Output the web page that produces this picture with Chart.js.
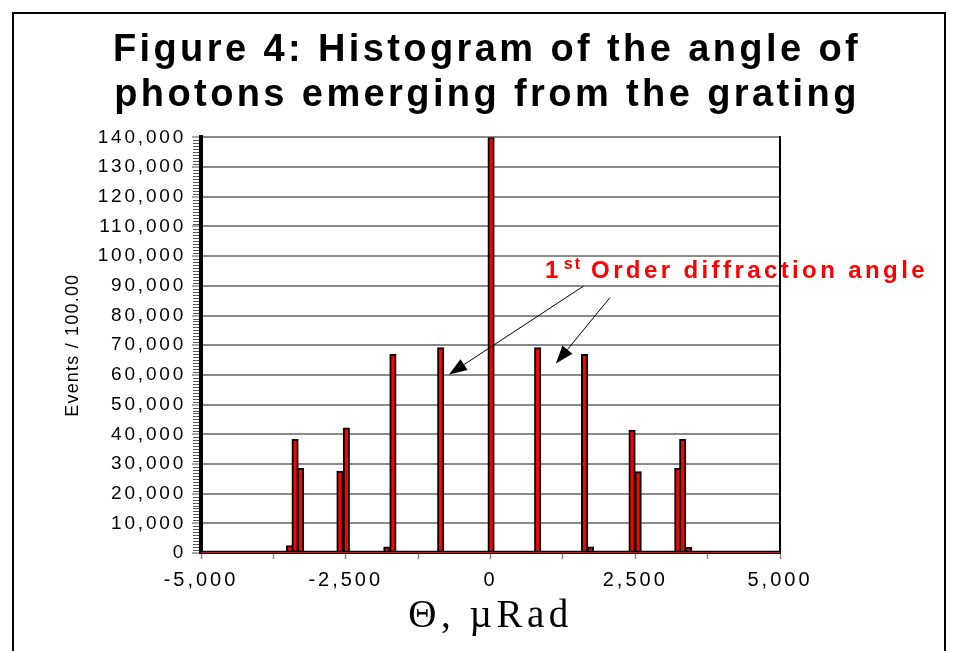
<!DOCTYPE html>
<html>
<head>
<meta charset="utf-8">
<script src="https://cdn.jsdelivr.net/npm/chart.js@4.4.1/dist/chart.umd.min.js"></script>
<style>
  body { margin: 0; background: #fff; }
  #wrap { position: relative; width: 953px; height: 651px; overflow: hidden; }
  #frame { position: absolute; left: 12px; top: 12px; width: 930px; height: 700px; border: 2px solid #000; pointer-events: none; }
  canvas { position: absolute; left: 0; top: 0; }
</style>
</head>
<body>
<div id="wrap">
  <canvas id="myChart" width="953" height="651"></canvas>
  <div id="frame"></div>
</div>
<script>
// histogram bins (bin centre in µrad, events / 100)
const angles = [-3470, -3375, -3280, -2600, -2490, -1790, -1685, -860, 10, 815, 1625, 1725, 2445, 2550, 3235, 3320, 3425];
const events = [2500, 38300, 28500, 27600, 42200, 2100, 66900, 69200, 140000, 69200, 66900, 2100, 41400, 27400, 28500, 38300, 1900];

const xTickValues = [-5000, -3750, -2500, -1250, 0, 1250, 2500, 3750, 5000];
const xTickLabels = ["-5,000", "", "-2,500", "", "0", "", "2,500", "", "5,000"];
const yTickValues = [0, 10000, 20000, 30000, 40000, 50000, 60000, 70000, 80000, 90000, 100000, 110000, 120000, 130000, 140000];
const yTickLabels = ["0", "10,000", "20,000", "30,000", "40,000", "50,000", "60,000", "70,000", "80,000", "90,000", "100,000", "110,000", "120,000", "130,000", "140,000"];
const yMinorStep = 1000;

const titleLines = ["Figure 4: Histogram of the angle of", "photons emerging from the grating"];
const xTitle = "\u0398, \u00b5Rad";
const yTitle = "Events / 100.00";

// annotation, in data units
const notePos = { x: 941, y: 92560 };
const arrows = [
	[1603, 89870, -717, 60150],
	[2064, 86060, 1131, 63850],
];

const canvas = document.getElementById("myChart");
const c2d = canvas.getContext("2d");

// the picture uses widely spaced lettering; pick the spacing from the font
const spacingFor = (font) => {
	if (font.includes("Serif")) return "4.5px";
	const m = font.match(/([\d.]+)px/);
	const size = m ? parseFloat(m[1]) : 12;
	if (size >= 30) return "3.4px";
	if (size >= 20) return "3px";
	if (size >= 19) return "2.8px";
	return "1.2px";
};
const fontProp = Object.getOwnPropertyDescriptor(CanvasRenderingContext2D.prototype, "font");
Object.defineProperty(c2d, "font", {
	get() {
		return fontProp.get.call(this);
	},
	set(v) {
		fontProp.set.call(this, v);
		this.letterSpacing = spacingFor(v);
	},
});

const drawArrow = (ctx, x1, y1, x2, y2) => {
	const ang = Math.atan2(y2 - y1, x2 - x1);
	const len = 18;
	const half = 6.5;
	const bx = x2 - len * Math.cos(ang);
	const by = y2 - len * Math.sin(ang);
	ctx.beginPath();
	ctx.moveTo(x1, y1);
	ctx.lineTo(bx, by);
	ctx.stroke();
	ctx.beginPath();
	ctx.moveTo(x2, y2);
	ctx.lineTo(bx + half * Math.sin(ang), by - half * Math.cos(ang));
	ctx.lineTo(bx - half * Math.sin(ang), by + half * Math.cos(ang));
	ctx.closePath();
	ctx.fill();
};

const extras = {
	id: "extras",
	afterDraw(chart) {
		const { ctx, scales } = chart;
		const x = scales.x;
		const y = scales.y;
		ctx.save();
		// minor ticks on the value axis
		ctx.strokeStyle = "#555";
		ctx.lineWidth = 1;
		for (let v = y.min; v <= y.max; v += yMinorStep) {
			if (yTickValues.includes(v)) continue;
			const py = Math.round(y.getPixelForValue(v)) + 0.5;
			ctx.beginPath();
			ctx.moveTo(chart.chartArea.left - 8, py);
			ctx.lineTo(chart.chartArea.left - 2, py);
			ctx.stroke();
		}
		// arrows
		ctx.strokeStyle = "#000";
		ctx.fillStyle = "#000";
		ctx.lineWidth = 1;
		arrows.forEach((a) => {
			drawArrow(ctx, x.getPixelForValue(a[0]), y.getPixelForValue(a[1]), x.getPixelForValue(a[2]), y.getPixelForValue(a[3]));
		});
		// label
		let px = x.getPixelForValue(notePos.x);
		const py = y.getPixelForValue(notePos.y);
		ctx.fillStyle = "#ff0000";
		ctx.textAlign = "left";
		ctx.textBaseline = "alphabetic";
		ctx.font = 'bold 24px "Liberation Sans"';
		ctx.letterSpacing = "3.5px";
		ctx.fillText("1", px, py);
		px += ctx.measureText("1").width + 2;
		ctx.font = 'bold 16px "Liberation Sans"';
		ctx.letterSpacing = "2px";
		ctx.fillText("st", px, py - 9);
		px += ctx.measureText("st").width + 9;
		ctx.font = 'bold 24px "Liberation Sans"';
		ctx.letterSpacing = "3.4px";
		ctx.fillText("Order diffraction angle", px, py);
		ctx.restore();
	},
};

Chart.defaults.font.family = '"Liberation Sans", Arial, sans-serif';
Chart.defaults.color = "#000";

new Chart(canvas, {
	type: "bar",
	data: {
		datasets: [
			{
				type: "line",
				data: [{ x: xTickValues[0], y: 0 }, { x: xTickValues[xTickValues.length - 1], y: 0 }],
				borderColor: "#ff0000",
				borderWidth: 2,
				pointRadius: 0,
				order: 0,
			},
			{
				type: "line",
				data: [{ x: xTickValues[0], y: 0 }, { x: xTickValues[xTickValues.length - 1], y: 0 }],
				borderColor: "#000",
				borderWidth: 4.5,
				pointRadius: 0,
				order: 1,
			},
			{
				data: angles.map((a, i) => ({ x: a, y: events[i] })),
				backgroundColor: "#ff0000",
				borderColor: "#000",
				borderWidth: 2,
				barThickness: 6.5,
				order: 2,
			},
		],
	},
	options: {
		responsive: false,
		animation: false,
		devicePixelRatio: 1,
		layout: { padding: { left: 21, top: 14, right: 0, bottom: 0 } },
		plugins: {
			legend: { display: false },
			tooltip: { enabled: false },
			title: {
				display: true,
				text: titleLines,
				color: "#000",
				font: { size: 38, weight: "bold", lineHeight: 1.19 },
				padding: { top: 14, bottom: 19 },
			},
		},
		scales: {
			x: {
				type: "linear",
				position: "bottom",
				min: xTickValues[0],
				max: xTickValues[xTickValues.length - 1],
				offset: false,
				afterBuildTicks: (s) => {
					s.ticks = xTickValues.map((v) => ({ value: v }));
				},
				afterFit: (s) => {
					s.height = 98;
				},
				ticks: {
					autoSkip: false,
					maxRotation: 0,
					padding: 9,
					font: { size: 20 },
					callback: (v, i) => xTickLabels[i],
				},
				grid: { drawOnChartArea: false, offset: false, tickLength: 6, tickColor: "#888", tickWidth: 1.5 },
				border: { color: "#000", width: 1 },
				title: {
					display: true,
					text: xTitle,
					font: { family: '"Liberation Serif", "Times New Roman", serif', size: 39, lineHeight: 1 },
					padding: { top: 6, bottom: 15 },
				},
			},
			y: {
				position: "left",
				min: yTickValues[0],
				max: yTickValues[yTickValues.length - 1],
				afterBuildTicks: (s) => {
					s.ticks = yTickValues.map((v) => ({ value: v }));
				},
				afterFit: (s) => {
					s.width = 180;
				},
				ticks: {
					autoSkip: false,
					padding: 6,
					font: { size: 19 },
					callback: (v, i) => yTickLabels[i],
				},
				grid: { color: "#8a8a8a", lineWidth: 2, tickLength: 9, tickColor: "#555", tickWidth: 1 },
				border: { color: "#000", width: 4 },
				title: {
					display: true,
					text: yTitle,
					font: { size: 18, lineHeight: 1.2 },
					padding: { top: 41, bottom: 0 },
				},
			},
			yR: {
				position: "right",
				afterFit: (s) => {
					s.width = 173;
				},
				ticks: { display: false },
				grid: { display: false, drawTicks: false },
				border: { display: true, color: "#000", width: 2 },
			},
		},
	},
	plugins: [extras],
});
</script>
</body>
</html>
